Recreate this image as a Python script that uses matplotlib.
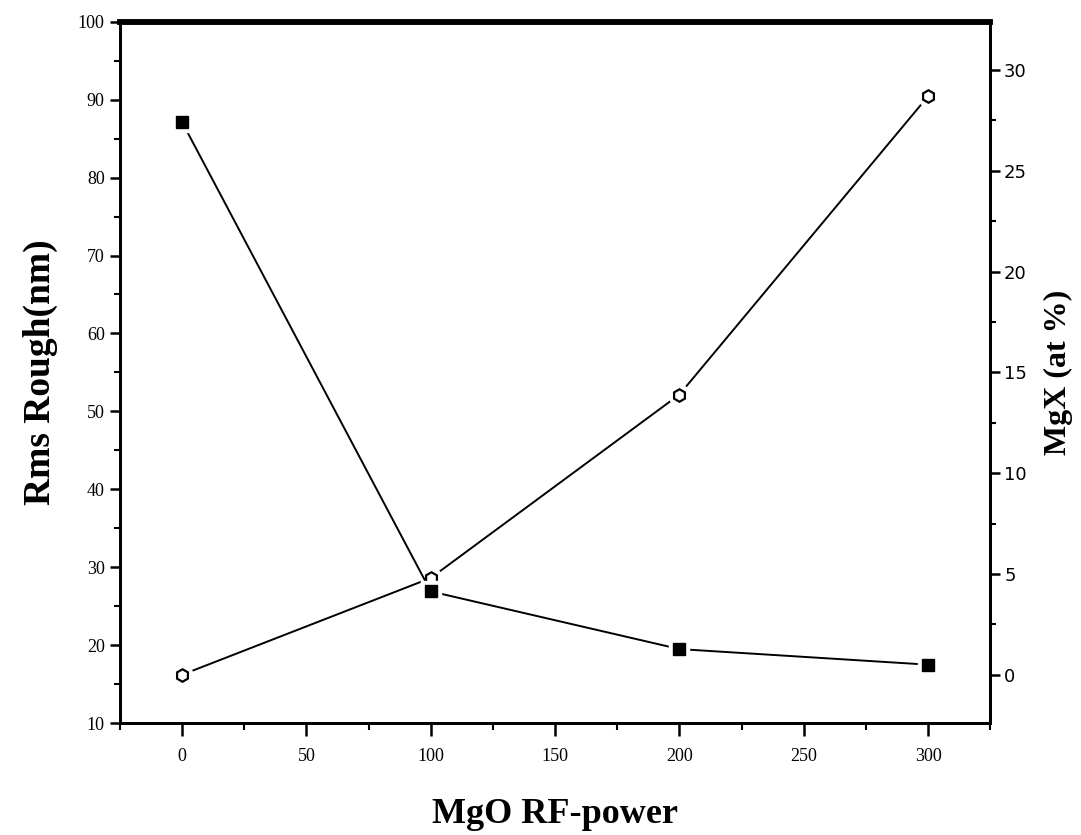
import matplotlib
matplotlib.use("Agg")
import matplotlib.pyplot as plt
from matplotlib.ticker import MultipleLocator, FixedLocator

# Data
rf_power = [0, 100, 200, 300]
rms_rough = [87.1, 26.9, 19.5, 17.5]        # left axis (nm)
mgx_at = [0.0, 4.8, 13.9, 28.7]             # right axis (at %)
x_ticks = [0, 50, 100, 150, 200, 250, 300]
x_ticklabels = ["0", "50", "100", "150", "200", "250", "300"]
left_ticks = [10, 20, 30, 40, 50, 60, 70, 80, 90, 100]
right_ticks = [0, 5, 10, 15, 20, 25, 30]

fig = plt.figure(figsize=(10.81, 8.35), dpi=100)
ax = fig.add_axes([0.111, 0.134, 0.805, 0.840])
ax2 = ax.twinx()

serif = "Liberation Serif"
sans = "DejaVu Sans"

# MgX series (open circles) on right axis
ax2.plot(rf_power, mgx_at, color="black", lw=1.4, zorder=2)
ax2.plot(rf_power, mgx_at, ls="none", marker="o", ms=15, mfc="white", mec="white", zorder=3)
ax2.plot(rf_power, mgx_at, ls="none", marker="h", ms=9, mfc="white", mec="black", mew=1.6, zorder=4)

# Rms series (filled squares) on left axis
ax.plot(rf_power, rms_rough, color="black", lw=1.4, zorder=2)
ax.plot(rf_power, rms_rough, ls="none", marker="s", ms=14, mfc="white", mec="white", zorder=3)
ax.plot(rf_power, rms_rough, ls="none", marker="s", ms=9, mfc="black", mec="black", zorder=4)
ax.set_zorder(ax2.get_zorder() + 1)
ax.patch.set_visible(False)

ax.set_xlim(-25, 325)
ax.set_ylim(10, 100)
ax2.set_ylim(-2.4, 32.4)

ax.xaxis.set_major_locator(FixedLocator(x_ticks))
ax.set_xticklabels(x_ticklabels, fontfamily=serif, fontsize=13)
ax.xaxis.set_minor_locator(MultipleLocator(25))
ax.yaxis.set_major_locator(FixedLocator(left_ticks))
ax.set_yticklabels([str(v) for v in left_ticks], fontfamily=serif, fontsize=13)
ax.yaxis.set_minor_locator(MultipleLocator(5))
ax2.yaxis.set_major_locator(FixedLocator(right_ticks))
ax2.set_yticklabels([str(v) for v in right_ticks], fontfamily=sans, fontsize=13)
ax2.yaxis.set_minor_locator(MultipleLocator(2.5))

ax.tick_params(axis="x", which="major", direction="out", length=9, width=1.8, pad=9)
ax.tick_params(axis="x", which="minor", direction="out", length=5, width=1.5)
ax.tick_params(axis="y", which="major", direction="out", length=7, width=1.8, pad=4)
ax.tick_params(axis="y", which="minor", direction="out", length=4, width=1.5)
ax2.tick_params(axis="y", which="major", direction="out", length=7, width=1.8, pad=3)
ax2.tick_params(axis="y", which="minor", direction="out", length=4, width=1.5)

for a in (ax, ax2):
    for s in ("left", "right", "bottom"):
        a.spines[s].set_linewidth(2.0)
    a.spines["top"].set_linewidth(4.0)

ax.set_xlabel("MgO RF-power", fontfamily=serif, fontweight="bold", fontsize=26, labelpad=24)
ax.set_ylabel("Rms Rough(nm)", fontfamily=serif, fontweight="bold", fontsize=27, labelpad=14)
ax2.set_ylabel("MgX (at %)", fontfamily=serif, fontweight="bold", fontsize=23,
               rotation=90, labelpad=12)

fig.savefig("out.png", dpi=100)
